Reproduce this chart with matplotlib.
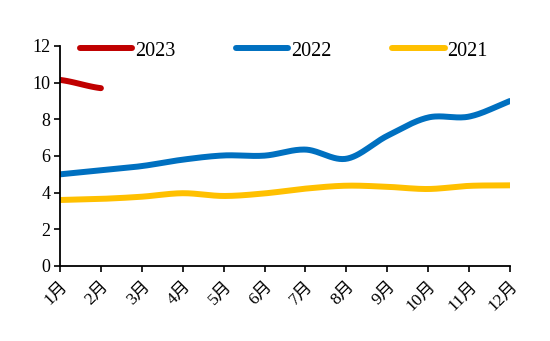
import numpy as np
import matplotlib.pyplot as plt

plt.rcParams['font.family'] = ['Liberation Serif', 'Noto Sans CJK SC']

months = ['1月', '2月', '3月', '4月', '5月', '6月', '7月', '8月', '9月', '10月', '11月', '12月']
y2023 = [10.15, 9.7]
y2022 = [5.0, 5.22, 5.45, 5.8, 6.03, 6.02, 6.35, 5.85, 7.1, 8.1, 8.15, 9.0]
y2021 = [3.6, 3.66, 3.78, 3.97, 3.82, 3.96, 4.22, 4.38, 4.32, 4.2, 4.37, 4.4]


def smooth(y, n=30):
    # cardinal (Catmull-Rom) spline through the monthly points
    y = np.asarray(y, dtype=float)
    x = np.arange(len(y), dtype=float)
    m = np.gradient(y)
    if len(y) == 2:
        m = m * 0.6
    xs, ys = [], []
    for i in range(len(y) - 1):
        t = np.linspace(0, 1, n, endpoint=False)
        h00 = 2 * t**3 - 3 * t**2 + 1
        h10 = t**3 - 2 * t**2 + t
        h01 = -2 * t**3 + 3 * t**2
        h11 = t**3 - t**2
        xs.append(x[i] + t)
        ys.append(h00 * y[i] + h10 * m[i] + h01 * y[i + 1] + h11 * m[i + 1])
    xs.append([x[-1]])
    ys.append([y[-1]])
    return np.concatenate(xs), np.concatenate(ys)


fig = plt.figure(figsize=(5.5, 3.41), dpi=100)
ax = fig.add_axes([60 / 550, 1 - 266 / 341, 450 / 550, 220 / 341])

lw = 4.3
for vals, color, label in [(y2023, '#C00000', '2023'),
                           (y2022, '#0070C0', '2022'),
                           (y2021, '#FFC000', '2021')]:
    xs, ys = smooth(vals)
    ax.plot(xs, ys, color=color, lw=lw, solid_capstyle='round', label=label)

ax.set_xlim(0, len(months) - 1)
ax.set_ylim(0, 12)
ax.set_yticks(range(0, 13, 2))
ax.set_xticks(range(len(months)))
ax.set_xticklabels(months, rotation=45, ha='right', va='top',
                   rotation_mode='anchor', fontsize=12.5)
ax.tick_params(axis='y', labelsize=13, direction='out', length=4, width=1.2, pad=3)
ax.tick_params(axis='x', direction='out', length=4, width=1.2, pad=5)

for s in ['top', 'right']:
    ax.spines[s].set_visible(False)
for s in ['left', 'bottom']:
    ax.spines[s].set_linewidth(1.3)

fig.legend(loc='center left', bbox_to_anchor=(80 / 550, 1 - 51 / 341),
           ncol=3, frameon=False, fontsize=14.5, handlelength=2.6,
           handletextpad=0.15, columnspacing=3.0, borderpad=0, borderaxespad=0)

fig.savefig('out.png', dpi=100)
